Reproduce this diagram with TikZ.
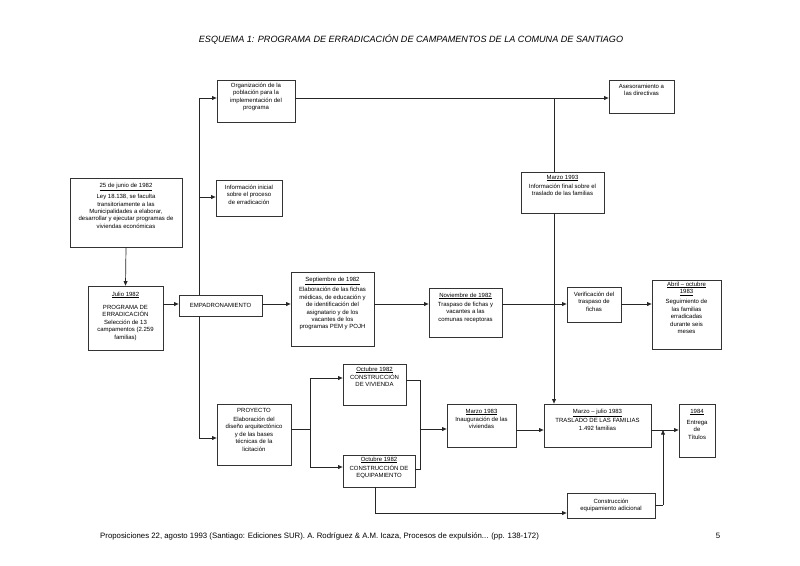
\documentclass[tikz,border=0pt]{standalone}
\usepackage{fontspec}
\setmainfont{Liberation Sans}
\usetikzlibrary{arrows.meta,calc}
\begin{document}
\begin{tikzpicture}[x=1pt,y=-1pt,
  box/.style={draw=black!80, line width=0.75pt, fill=white, inner sep=0pt},
  txt/.style={font=\fontsize{6}{7.4}\selectfont, align=center, inner sep=0pt, anchor=north},
  ln/.style={draw=black!85, line width=0.7pt},
  arr/.style={ln, -{Triangle[length=4.5pt,width=3.8pt]}},
]
\useasboundingbox (0,0) rectangle (800,565);

% title and footer
\node[font=\fontsize{9.1}{10}\selectfont\itshape, inner sep=0pt] (title) at (411,39) {ESQUEMA 1: PROGRAMA DE ERRADICACIÓN DE CAMPAMENTOS DE LA COMUNA DE SANTIAGO};
\node[font=\fontsize{7.8}{9}\selectfont, anchor=west, inner sep=0pt] (foot) at (100,536) {Proposiciones 22, agosto 1993 (Santiago: Ediciones SUR). A. Rodríguez \& A.M. Icaza, Procesos de expulsión... (pp. 138-172)};
\node[font=\fontsize{7.8}{9}\selectfont, inner sep=0pt] (pg) at (718,536) {5};

% spine coordinates
\coordinate (spT) at (199,98);
\coordinate (spI) at (199,197);
\coordinate (spB) at (199,438);

% boxes
\node[box, minimum width=112, minimum height=69] (b25) at (126,212.5) {};
\node[txt] (b25t) at ([yshift=-5pt]b25.north) {\underline{25 de junio de 1982}\\[3pt] Ley 18.138, se faculta\\ transitoriamente a las\\ Municipalidades a elaborar,\\ desarrollar y ejecutar programas de\\ viviendas económicas};

\node[box, minimum width=75, minimum height=64] (julio) at (125.5,318) {};
\node[txt] (juliot) at ([yshift=-6pt]julio.north) {\underline{Julio 1982}\\[6pt] PROGRAMA DE\\ ERRADICACIÓN\\ Selección de 13\\ campamentos (2.259\\ familias)};

\node[box, minimum width=78, minimum height=42] (org) at (256,101) {};
\node[txt] (orgt) at ([yshift=-3pt]org.north) {Organización de la\\ población para la\\ implementación del\\ programa};

\node[box, minimum width=66, minimum height=36] (info) at (249,198) {};
\node[txt] (infot) at ([yshift=-5pt]info.north) {Información inicial\\ sobre el proceso\\ de erradicación};

\node[box, minimum width=83, minimum height=21, font=\fontsize{6}{7}\selectfont] (empad) at (220.5,305.5) {EMPADRONAMIENTO};

\node[box, minimum width=83, minimum height=74] (sept) at (332.5,309) {};
\node[txt] (septt) at ([yshift=-5pt]sept.north) {\underline{Septiembre de 1982}\\[2pt] Elaboración de las fichas\\ médicas, de educación y\\ de identificación del\\ asignatario y de los\\ vacantes de los\\ programas PEM y POJH};

\node[box, minimum width=73, minimum height=49] (nov) at (465.5,312.5) {};
\node[txt] (novt) at ([yshift=-5pt]nov.north) {\underline{Noviembre de 1982}\\[2pt] Traspaso de fichas y\\ vacantes a las\\ comunas receptoras};

\node[box, minimum width=54, minimum height=35] (verif) at (594,304.5) {};
\node[txt] (verift) at ([yshift=-5pt]verif.north) {Verificación del\\ traspaso de\\ fichas};

\node[box, minimum width=69, minimum height=69] (abril) at (686.5,314.5) {};
\node[txt] (abrilt) at ([yshift=-2pt]abril.north) {\underline{Abril -- octubre}\\ \underline{1983}\\[3pt] Seguimiento de\\ las familias\\ erradicadas\\ durante seis\\ meses};

\node[box, minimum width=65, minimum height=33] (ases) at (641.5,96.5) {};
\node[txt] (asest) at ([yshift=-4pt]ases.north) {Asesoramiento a\\ las directivas};

\node[box, minimum width=83, minimum height=41] (m93) at (562.5,192.5) {};
\node[txt] (m93t) at ([yshift=-3pt]m93.north) {\underline{Marzo 1993}\\[2pt] Información final sobre el\\ traslado de las familias};

\node[box, minimum width=74, minimum height=61] (proy) at (254,434.5) {};
\node[txt] (proyt) at ([yshift=-4pt]proy.north) {PROYECTO\\[2pt] Elaboración del\\ diseño arquitectónico\\ y de las bases\\ técnicas de la\\ licitación};

\node[box, minimum width=63, minimum height=41] (viv) at (374.5,384.5) {};
\node[txt] (vivt) at ([yshift=-3pt]viv.north) {\underline{Octubre 1982}\\[1pt] CONSTRUCCIÓN\\ DE VIVIENDA};

\node[box, minimum width=72, minimum height=32] (equip) at (379,471) {};
\node[txt] (equipt) at ([yshift=-2pt]equip.north) {\underline{Octubre 1982}\\[2pt] CONSTRUCCIÓN DE\\ EQUIPAMIENTO};

\node[box, minimum width=69, minimum height=43] (m83) at (481.5,425.5) {};
\node[txt] (m83t) at ([yshift=-5pt]m83.north) {\underline{Marzo 1983}\\[1pt] Inauguración de las\\ viviendas};

\node[box, minimum width=107, minimum height=43] (mj) at (597.5,425.5) {};
\node[txt] (mjt) at ([yshift=-5pt]mj.north) {\underline{Marzo -- julio 1983}\\[1pt] TRASLADO DE LAS FAMILIAS\\ 1.492 familias};

\node[box, minimum width=36, minimum height=53] (t84) at (697,430.5) {};
\node[txt] (t84t) at ([yshift=-5pt]t84.north) {\underline{1984}\\[4pt] Entrega\\ de\\ Títulos};

\node[box, minimum width=88, minimum height=25, font=\fontsize{6}{7.4}\selectfont, align=center] (cad) at (611,505.5) {Construcción\\ equipamiento adicional};

% connectors
\draw[ln] (spT) -- (spT |- empad.north);
\draw[ln] (spT |- empad.south) -- (spB);
\draw[arr] (spT) -- (spT -| org.west);
\draw[arr] (spI) -- (spI -| info.west);
\draw[arr] (spB) -- (spB -| proy.west);
\draw[arr] (b25.south) -- (julio.north);

\coordinate (row) at (0,304);
\draw[arr] (row -| julio.east) -- (row -| empad.west);
\draw[arr] (row -| empad.east) -- (row -| sept.west);
\draw[arr] (row -| sept.east) -- (row -| nov.west);
\draw[arr] (row -| nov.east) -- (row -| verif.west);
\draw[arr] (row -| verif.east) -- (row -| abril.west);

\draw[arr] (spT -| org.east) -- (spT -| ases.west);
\coordinate (vx) at (554,0);
\draw[ln] (vx |- spT) -- (vx |- m93.north);
\draw[arr] (vx |- m93.south) -- (vx |- mj.north);

\coordinate (j1) at (310,429);
\coordinate (j1t) at (310,378);
\coordinate (j1b) at (310,467);
\draw[ln] (j1 -| proy.east) -- (j1);
\draw[ln] (j1t) -- (j1b);
\draw[arr] (j1t) -- (j1t -| viv.west);
\draw[arr] (j1b) -- (j1b -| equip.west);

\coordinate (j2t) at (420,380);
\coordinate (j2b) at (420,469);
\coordinate (j2m) at (420,429);
\draw[ln] (j2t -| viv.east) -- (j2t) -- (j2b) -- (j2b -| equip.east);
\draw[arr] (j2m) -- (j2m -| m83.west);

\coordinate (row2) at (0,430);
\draw[arr] (row2 -| m83.east) -- (row2 -| mj.west);
\draw[arr] (row2 -| mj.east) -- (row2 -| t84.west);

\coordinate (j3) at (663,505);
\draw[ln] (j3 -| cad.east) -- (j3);
\draw[arr] (j3) -- (j3 |- row2);

\coordinate (j4) at (375,513);
\draw[ln] (j4 |- equip.south) -- (j4);
\draw[arr] (j4) -- (j4 -| cad.west);
\end{tikzpicture}
\end{document}
